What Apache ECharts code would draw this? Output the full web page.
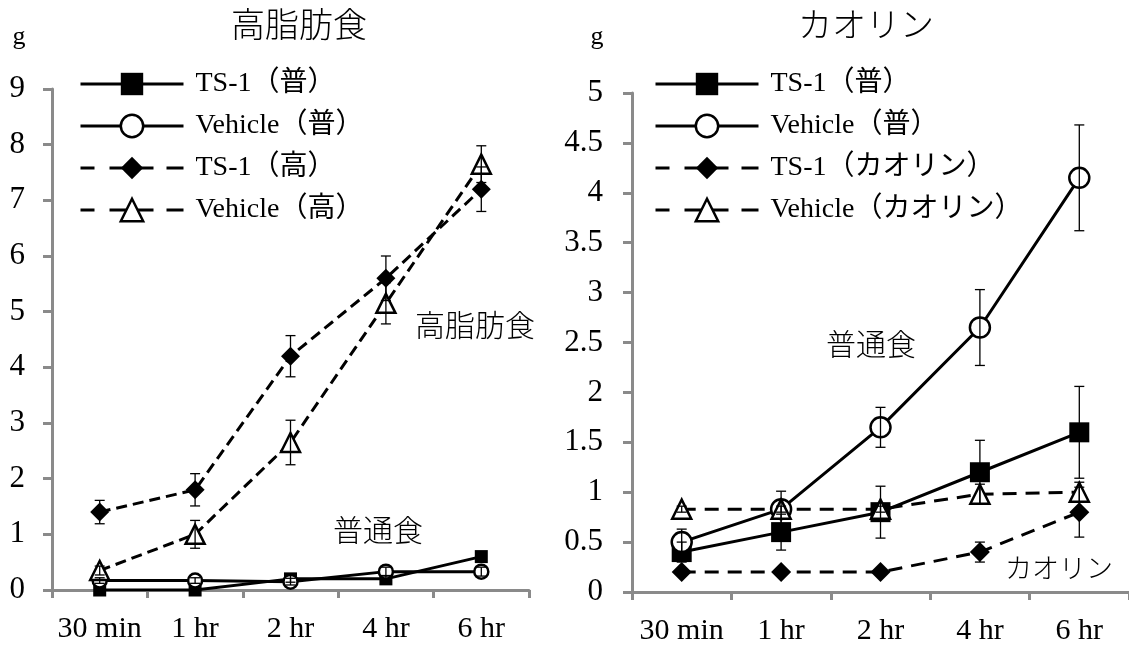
<!DOCTYPE html>
<html>
<head>
<meta charset="utf-8">
<script src="https://cdn.jsdelivr.net/npm/echarts@6/dist/echarts.min.js"></script>
<style>
html,body{margin:0;padding:0;background:#fff;}
#chart{width:1129px;height:648px;}
</style>
</head>
<body>
<div id="chart"></div>
<script>
// ---- data ----
const categories = ['30 min', '1 hr', '2 hr', '4 hr', '6 hr'];

// Left panel: 高脂肪食
const hfTs1Normal = [0, 0, 0.2, 0.2, 0.6];
const hfTs1NormalErr = [0.03, 0.03, 0.06, 0.06, 0.08];
const hfVehNormal = [0.17, 0.17, 0.15, 0.33, 0.33];
const hfVehNormalErr = [0.05, 0.05, 0.06, 0.08, 0.08];
const hfTs1High = [1.4, 1.8, 4.2, 5.6, 7.2];
const hfTs1HighErr = [0.21, 0.29, 0.37, 0.4, 0.4];
const hfVehHigh = [0.35, 1.0, 2.65, 5.15, 7.65];
const hfVehHighErr = [0.08, 0.25, 0.4, 0.37, 0.33];

// Right panel: カオリン
const kaTs1Normal = [0.4, 0.6, 0.8, 1.2, 1.6];
const kaTs1NormalErr = [0.1, 0.18, 0.26, 0.32, 0.46];
const kaVehNormal = [0.5, 0.83, 1.65, 2.65, 4.15];
const kaVehNormalErr = [0.13, 0.18, 0.2, 0.38, 0.53];
const kaTs1Kaolin = [0.2, 0.2, 0.2, 0.4, 0.8];
const kaTs1KaolinErr = [0.03, 0.03, 0.03, 0.1, 0.25];
const kaVehKaolin = [0.83, 0.83, 0.83, 0.98, 1.0];
const kaVehKaolinErr = [0.03, 0.03, 0.03, 0.1, 0.1];

const leftNames = ['TS-1（普）', 'Vehicle（普）', 'TS-1（高）', 'Vehicle（高）'];
const rightNames = ['TS-1（普）', 'Vehicle（普）', 'TS-1（カオリン）', 'Vehicle（カオリン）'];

// ---- styling ----
const FONT = "'Liberation Serif', 'Noto Sans CJK JP', serif";
const AXIS_GRAY = '#8a8a8a';

const symSolidSquare = { symbol: 'rect', itemStyle: { color: '#000', borderColor: '#000', borderWidth: 0 } };
const symOpenCircle = { symbol: 'circle', itemStyle: { color: '#fff', borderColor: '#000', borderWidth: 2.5 } };
const symDiamond = { symbol: 'diamond', itemStyle: { color: '#000', borderColor: '#000', borderWidth: 0 } };
const symOpenTriangle = { symbol: 'triangle', itemStyle: { color: '#fff', borderColor: '#000', borderWidth: 2.5 } };

function lineSeries(name, data, sym, size, dash, idx) {
  return {
    name: name, type: 'line', xAxisIndex: idx, yAxisIndex: idx, data: data,
    symbol: sym.symbol, symbolSize: size,
    itemStyle: sym.itemStyle,
    lineStyle: { color: '#000', width: 3, type: dash },
    emphasis: { disabled: true },
    z: 3
  };
}

function errSeries(values, errs, idx) {
  return {
    type: 'custom', name: 'err', xAxisIndex: idx, yAxisIndex: idx, silent: true, z: 5,
    data: values.map((v, i) => [i, v - errs[i], v + errs[i]]),
    encode: { x: 0, y: [1, 2] },
    renderItem: function (params, api) {
      const top = api.coord([api.value(0), api.value(2)]);
      const bot = api.coord([api.value(0), api.value(1)]);
      const hw = 5;
      const st = { stroke: '#000', lineWidth: 1.3 };
      return {
        type: 'group', children: [
          { type: 'line', shape: { x1: top[0], y1: top[1], x2: bot[0], y2: bot[1] }, style: st },
          { type: 'line', shape: { x1: top[0] - hw, y1: top[1], x2: top[0] + hw, y2: top[1] }, style: st },
          { type: 'line', shape: { x1: bot[0] - hw, y1: bot[1], x2: bot[0] + hw, y2: bot[1] }, style: st }
        ]
      };
    }
  };
}

function xAxis(idx) {
  return {
    type: 'category', gridIndex: idx, data: categories, boundaryGap: true,
    axisLine: { lineStyle: { color: AXIS_GRAY, width: 3 } },
    axisTick: { show: true, length: 8, lineStyle: { color: AXIS_GRAY, width: 3 } },
    axisLabel: { color: '#000', fontSize: 30, fontFamily: FONT, margin: 24, interval: 0 },
    splitLine: { show: false }
  };
}
function yAxis(idx, max, interval, margin) {
  return {
    type: 'value', gridIndex: idx, min: 0, max: max, interval: interval,
    axisLine: { show: true, lineStyle: { color: AXIS_GRAY, width: 3 } },
    axisTick: { show: true, length: 9, lineStyle: { color: AXIS_GRAY, width: 3 } },
    axisLabel: { color: '#000', fontSize: 31, fontFamily: FONT, margin: margin },
    splitLine: { show: false }
  };
}

const solidLeg = { color: '#000', width: 3, type: 'solid' };
const dashLeg = { color: '#000', width: 3, type: [14, 15, 44, 13, 17, 10] };
function legendItems(names) {
  return [
    { name: names[0], itemStyle: symSolidSquare.itemStyle, lineStyle: solidLeg },
    { name: names[1], itemStyle: symOpenCircle.itemStyle, lineStyle: solidLeg },
    { name: names[2], itemStyle: symDiamond.itemStyle, lineStyle: dashLeg },
    { name: names[3], itemStyle: symOpenTriangle.itemStyle, lineStyle: dashLeg }
  ];
}
function legend(names, left) {
  return {
    orient: 'vertical', left: left, top: 70, padding: 0,
    itemWidth: 103, itemHeight: 28, itemGap: 14,
    selectedMode: false,
    data: legendItems(names),
    textStyle: { color: '#000', fontSize: 28, fontFamily: FONT, lineHeight: 28, padding: [0, 0, 0, 7] }
  };
}

const LDASH = [11, 6];
const RDASH = [14, 9];

const titleStyle = { fontSize: 34, fontWeight: 300, color: '#000', fontFamily: FONT };
const option = {
  animation: false,
  backgroundColor: '#fff',
  title: [
    { text: '高脂肪食', left: 299, top: 11, padding: 0, textAlign: 'center', textStyle: titleStyle },
    { text: 'カオリン', left: 866, top: 11, padding: 0, textAlign: 'center', textStyle: titleStyle }
  ],
  legend: [legend(leftNames, 79), legend(rightNames, 654)],
  grid: [
    { left: 52, top: 89, width: 477, height: 501 },
    { left: 632, top: 93, width: 499, height: 499 }
  ],
  xAxis: [xAxis(0), xAxis(1)],
  yAxis: [yAxis(0, 9, 1, 27), yAxis(1, 5, 0.5, 29)],
  graphic: [
    { type: 'text', x: 19, y: 37, style: { text: 'g', fontSize: 26, fontFamily: FONT, fill: '#000', align: 'center', verticalAlign: 'middle' } },
    { type: 'text', x: 597, y: 37, style: { text: 'g', fontSize: 26, fontFamily: FONT, fill: '#000', align: 'center', verticalAlign: 'middle' } },
    { type: 'text', x: 475, y: 328, style: { text: '高脂肪食', fontSize: 30, fontWeight: 300, fontFamily: FONT, fill: '#000', align: 'center', verticalAlign: 'middle' } },
    { type: 'text', x: 378, y: 533, style: { text: '普通食', fontSize: 30, fontWeight: 300, fontFamily: FONT, fill: '#000', align: 'center', verticalAlign: 'middle' } },
    { type: 'text', x: 871, y: 347, style: { text: '普通食', fontSize: 30, fontWeight: 300, fontFamily: FONT, fill: '#000', align: 'center', verticalAlign: 'middle' } },
    { type: 'text', x: 1059, y: 571, style: { text: 'カオリン', fontSize: 27, fontWeight: 300, fontFamily: FONT, fill: '#000', align: 'center', verticalAlign: 'middle' } }
  ],
  series: [
    lineSeries(leftNames[0], hfTs1Normal, symSolidSquare, 13, 'solid', 0),
    lineSeries(leftNames[1], hfVehNormal, symOpenCircle, 14, 'solid', 0),
    lineSeries(leftNames[2], hfTs1High, symDiamond, 19, LDASH, 0),
    lineSeries(leftNames[3], hfVehHigh, symOpenTriangle, 19, LDASH, 0),
    errSeries(hfTs1Normal, hfTs1NormalErr, 0),
    errSeries(hfVehNormal, hfVehNormalErr, 0),
    errSeries(hfTs1High, hfTs1HighErr, 0),
    errSeries(hfVehHigh, hfVehHighErr, 0),

    lineSeries(rightNames[0], kaTs1Normal, symSolidSquare, 20, 'solid', 1),
    lineSeries(rightNames[1], kaVehNormal, symOpenCircle, 20, 'solid', 1),
    lineSeries(rightNames[2], kaTs1Kaolin, symDiamond, 20, RDASH, 1),
    lineSeries(rightNames[3], kaVehKaolin, symOpenTriangle, 19, RDASH, 1),
    errSeries(kaTs1Normal, kaTs1NormalErr, 1),
    errSeries(kaVehNormal, kaVehNormalErr, 1),
    errSeries(kaTs1Kaolin, kaTs1KaolinErr, 1),
    errSeries(kaVehKaolin, kaVehKaolinErr, 1)
  ]
};

const chart = echarts.init(document.getElementById('chart'), null, { renderer: 'canvas' });
chart.setOption(option);
</script>
</body>
</html>
